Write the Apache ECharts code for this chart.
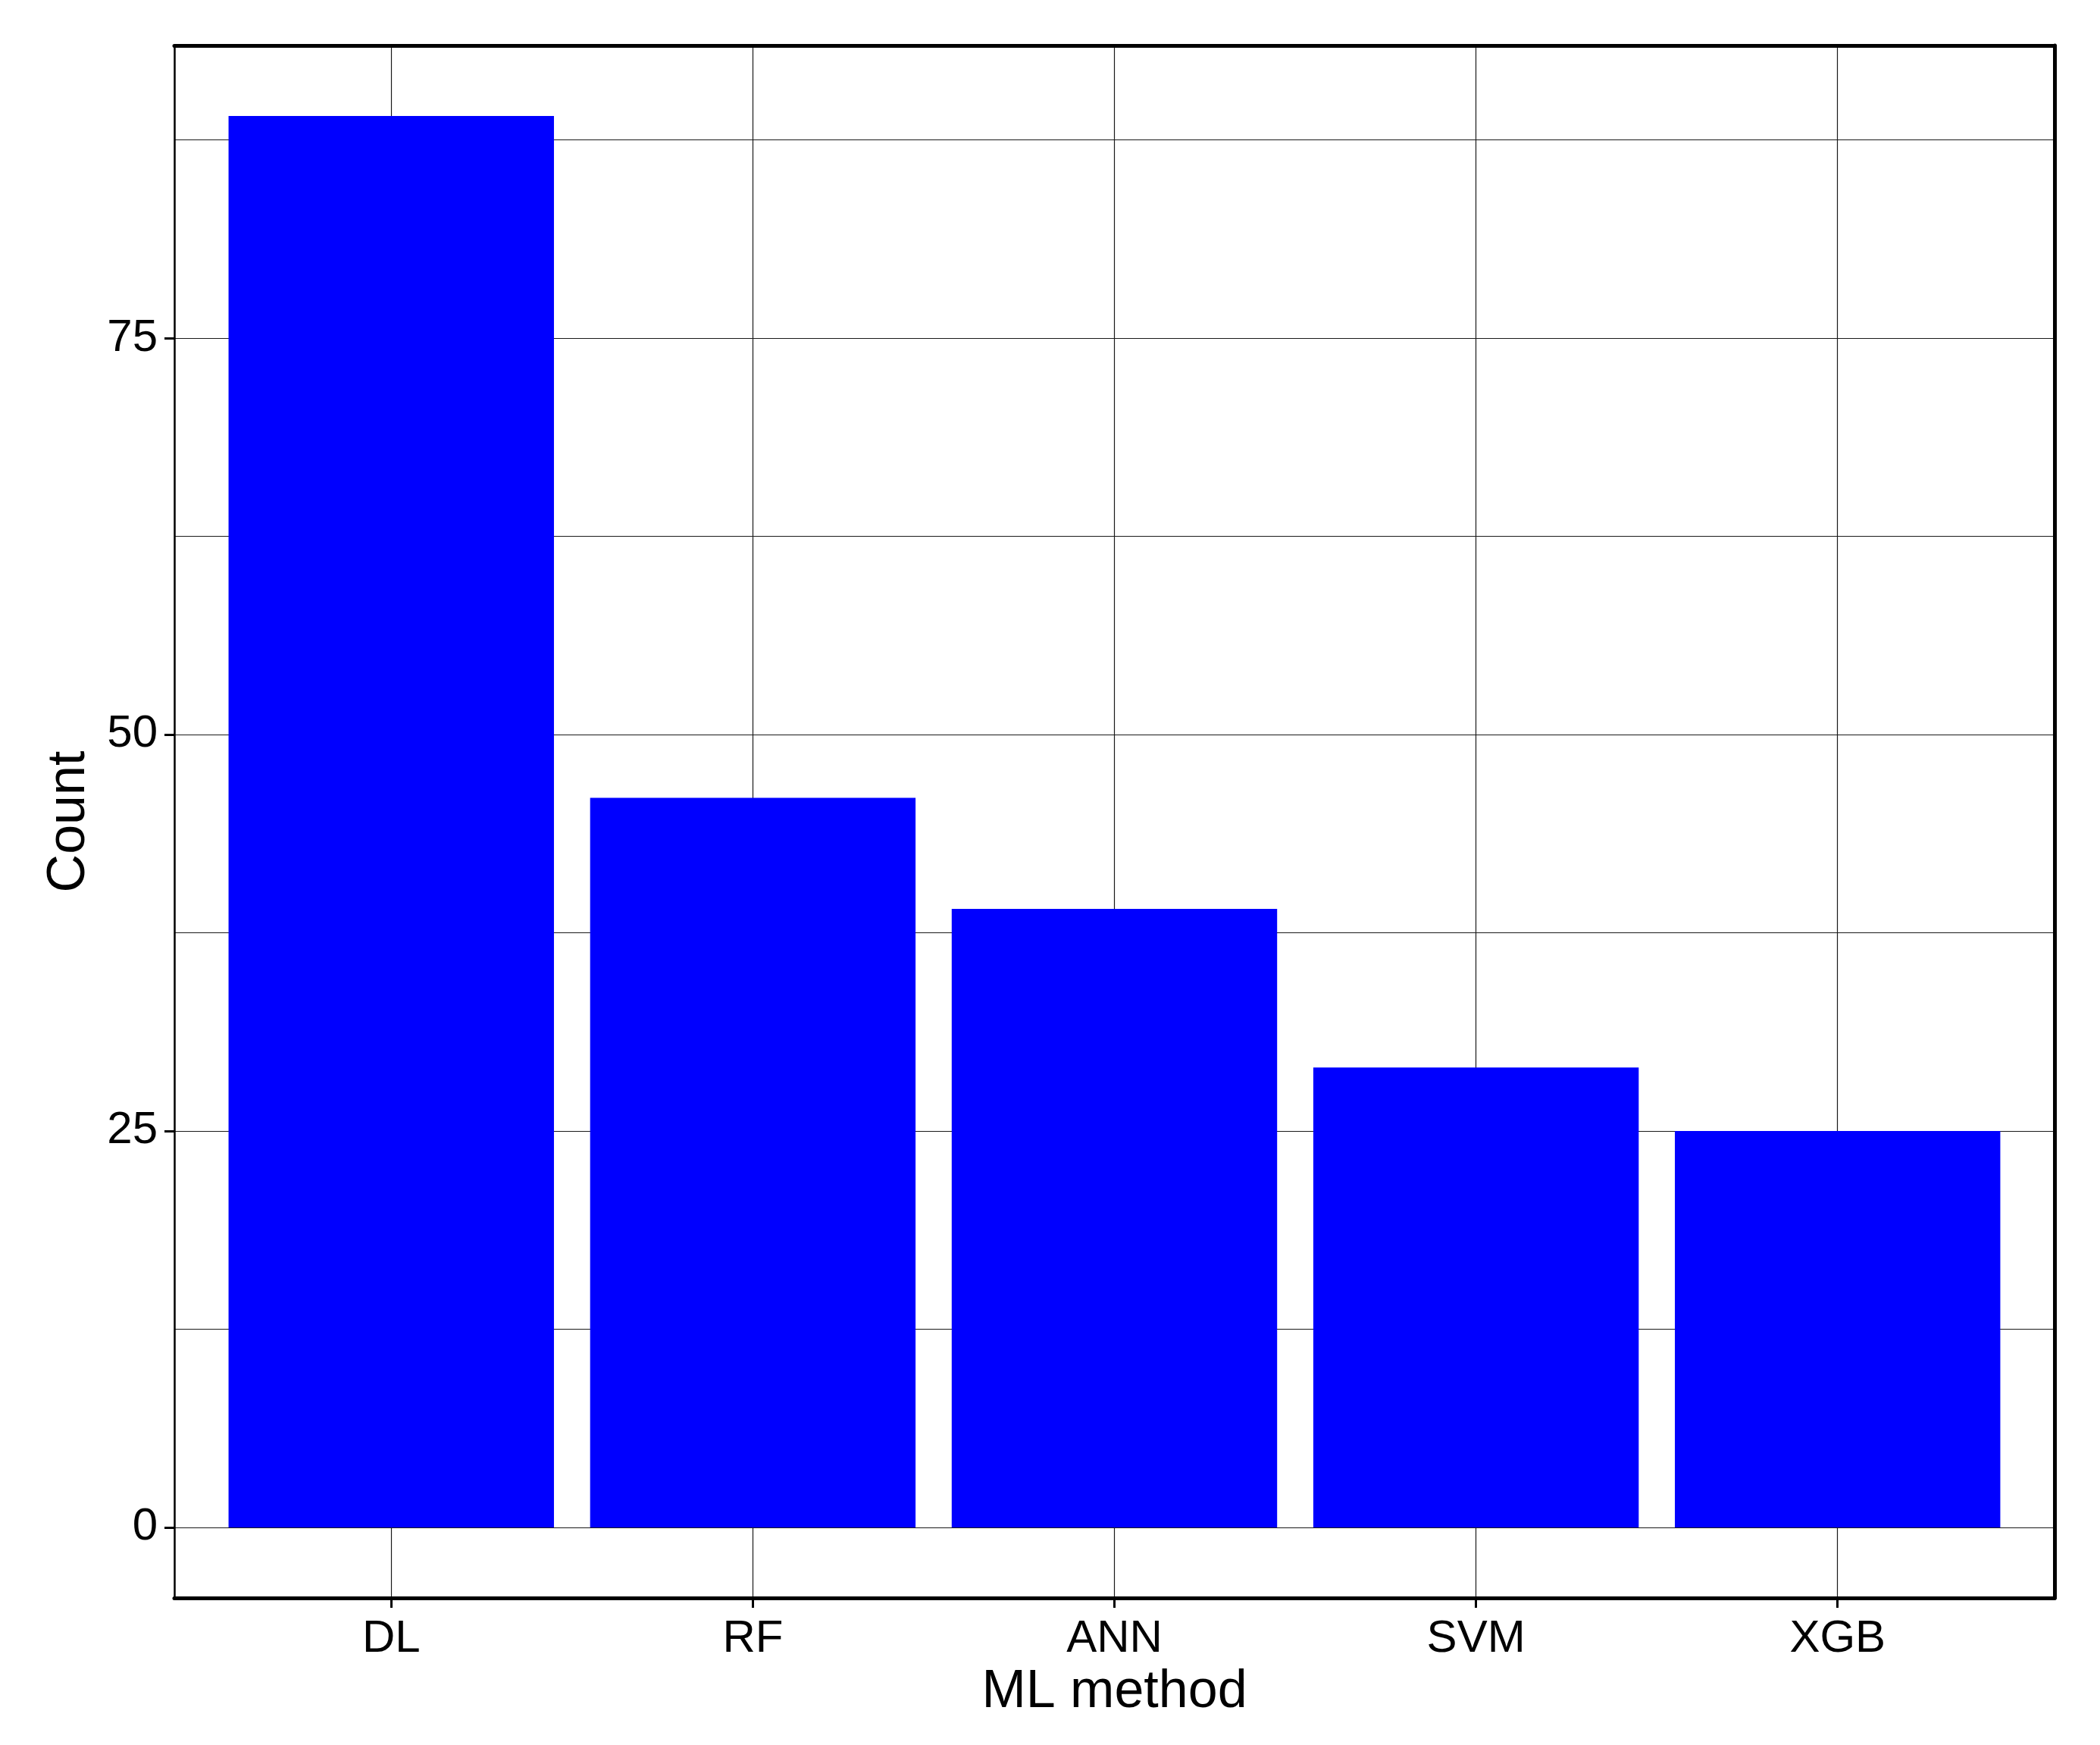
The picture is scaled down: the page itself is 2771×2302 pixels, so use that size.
<!DOCTYPE html>
<html>
<head>
<meta charset="utf-8">
<script src="https://cdn.jsdelivr.net/npm/echarts@6/dist/echarts.min.js"></script>
<style>
  html, body { margin: 0; padding: 0; background: #fff; }
  #chart { width: 2771px; height: 2302px; }
</style>
</head>
<body>
<div id="chart"></div>
<script>
// data
const categories = ['DL', 'RF', 'ANN', 'SVM', 'XGB'];
const counts = [89, 46, 39, 29, 25];
const categoryPositions = [1, 2, 3, 4, 5];
const yMajorTicks = [0, 25, 50, 75];
const yMinorGrid = [12.5, 37.5, 62.5, 87.5];
const xLimits = [0.4, 5.6];
const yLimits = [-4.45, 93.45];

// layout
const W = 2771, H = 2302;
const gridLeft = 230, gridRight = 60, gridTop = 60, gridBottom = 194;
const plotWidth = W - gridLeft - gridRight;
const barWidth = 0.9 * plotWidth / (xLimits[1] - xLimits[0]);

const font = "'Liberation Sans', Arial, Helvetica, sans-serif";
const gridLine = { show: true, lineStyle: { color: '#1a1a1a', width: 1.2 } };

const chart = echarts.init(document.getElementById('chart'));
chart.setOption({
  animation: false,
  backgroundColor: '#ffffff',
  grid: { left: gridLeft, right: gridRight, top: gridTop, bottom: gridBottom, show: false },
  xAxis: [
    {
      type: 'value',
      position: 'bottom',
      min: xLimits[0],
      max: xLimits[1],
      name: 'ML method',
      nameLocation: 'middle',
      nameGap: 90,
      nameTextStyle: { fontFamily: font, fontSize: 70, color: '#000' },
      axisLine: { show: true, onZero: false, lineStyle: { color: '#000', width: 5 } },
      axisTick: { show: true, length: 13, customValues: categoryPositions, lineStyle: { color: '#000', width: 3 } },
      axisLabel: {
        show: true,
        customValues: categoryPositions,
        margin: 24,
        fontFamily: font,
        fontSize: 60,
        color: '#000',
        formatter: (v) => categories[Math.round(v) - 1] || ''
      },
      splitLine: gridLine
    },
    {
      type: 'value',
      position: 'top',
      min: xLimits[0],
      max: xLimits[1],
      axisLine: { show: true, onZero: false, lineStyle: { color: '#000', width: 5 } },
      axisTick: { show: false },
      axisLabel: { show: false },
      splitLine: { show: false }
    }
  ],
  yAxis: [
    {
      type: 'value',
      position: 'left',
      min: yLimits[0],
      max: yLimits[1],
      name: 'Count',
      nameLocation: 'middle',
      nameGap: 103,
      nameTextStyle: { fontFamily: font, fontSize: 70, color: '#000' },
      axisLine: { show: true, onZero: false, lineStyle: { color: '#000', width: 2.5 } },
      axisTick: { show: true, length: 13, customValues: yMajorTicks, lineStyle: { color: '#000', width: 3 } },
      axisLabel: {
        show: true,
        customValues: yMajorTicks,
        margin: 22,
        fontFamily: font,
        fontSize: 60,
        color: '#000'
      },
      splitLine: gridLine
    },
    {
      // minor gridlines + right border
      type: 'value',
      position: 'right',
      min: yLimits[0],
      max: yLimits[1],
      axisLine: { show: true, onZero: false, lineStyle: { color: '#000', width: 5 } },
      axisTick: { show: false, customValues: yMinorGrid },
      axisLabel: { show: false },
      splitLine: gridLine
    }
  ],
  series: [
    {
      type: 'bar',
      xAxisIndex: 0,
      yAxisIndex: 0,
      barWidth: barWidth,
      itemStyle: { color: '#0000ff' },
      data: categoryPositions.map((x, i) => [x, counts[i]])
    }
  ]
});
</script>
</body>
</html>
